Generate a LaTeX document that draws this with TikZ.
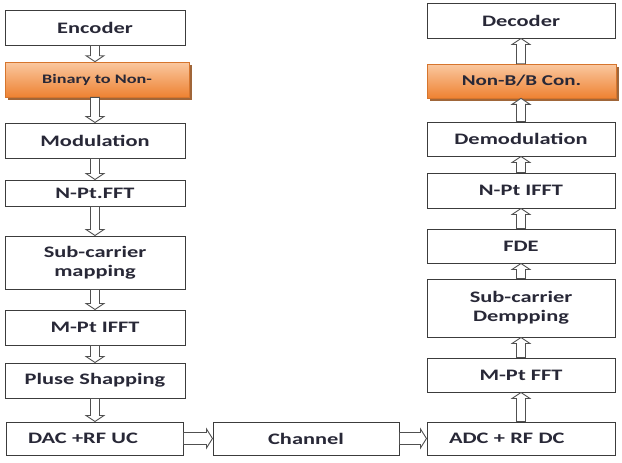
\documentclass[tikz,border=0pt]{standalone}
\usepackage{fontspec}
\usetikzlibrary{calc,shadows}
% Calibri-metric sans, widened like the original artwork
\newfontfamily\lblfont{Carlito}[FakeStretch=1.4]
\definecolor{ink}{RGB}{40,40,55}
\definecolor{edge}{RGB}{60,60,60}
\definecolor{arredge}{RGB}{80,80,80}
\definecolor{orgtop}{RGB}{250,200,160}
\definecolor{orgbot}{RGB}{238,130,50}
\definecolor{orgshadow}{RGB}{150,85,35}

\tikzset{
  stage/.style={draw=edge, line width=1pt, fill=white, inner sep=0pt,
    text=ink, align=center, font=\lblfont\bfseries\fontsize{16}{19}\selectfont},
  leftstage/.style={stage, align=left, inner xsep=22pt},
  conv/.style={stage, draw=orgbot!90!black, line width=0.6pt,
    top color=orgtop, bottom color=orgbot,
    drop shadow={shadow xshift=2.5pt, shadow yshift=-3pt, fill=orgshadow, opacity=0.9}},
  % hollow block arrow: #1 shaft half width, #2 head half width, #3 head length
  blk/.style n args={3}{draw=arredge, line width=0.9pt, fill=white,
    to path={let \p1=(\tikztostart), \p2=(\tikztotarget),
                 \p3=($(\p2)!#3!(\p1)$) in
      ($(\p1)!#1!90:(\p2)$) -- ($(\p3)!#1!90:(\p2)$) -- ($(\p3)!#2!90:(\p2)$)
      -- (\p2) -- ($(\p3)!#2!-90:(\p2)$) -- ($(\p3)!#1!-90:(\p2)$)
      -- ($(\p1)!#1!-90:(\p2)$) -- cycle}},
  varr/.style={blk={4.5pt}{9pt}{6pt}},
  harr/.style={blk={6pt}{9.5pt}{6pt}}
}

\begin{document}
\begin{tikzpicture}[x=1pt,y=-1pt]
\useasboundingbox (0,0) rectangle (622,463);

% transmitter chain
\node[stage, minimum width=180pt, minimum height=35pt] (enc)   at (95,27.5)  {Encoder};
\node[conv, font=\lblfont\bfseries\fontsize{13}{15}\selectfont,
      minimum width=184pt, minimum height=35pt]         (b2n)   at (97,79.5)  {Binary to Non-};
\node[stage, minimum width=180pt, minimum height=35pt] (mod)   at (95,140.5) {Modulation};
\node[stage, minimum width=180pt, minimum height=26pt] (nfft)  at (95,193)   {N-Pt.FFT};
\node[stage, minimum width=180pt, minimum height=53pt] (smap)  at (95,262.5) {Sub-carrier\\mapping};
\node[stage, minimum width=180pt, minimum height=35pt] (mifft) at (95,327.5) {M-Pt IFFT};
\node[stage, minimum width=180pt, minimum height=35pt] (pulse) at (95,380.5) {Pluse Shapping};
\node[leftstage, text width=133pt, minimum height=33pt] (dac)  at (94.5,438.5) {DAC +RF UC};

% channel
\node[stage, minimum width=186pt, minimum height=33pt] (chan)  at (306,438.5) {Channel};

% receiver chain
\node[leftstage, text width=144pt, minimum height=33pt] (adc)  at (521,438.5) {ADC + RF DC};
\node[stage, minimum width=188pt, minimum height=34pt] (mfft)  at (521,375)   {M-Pt FFT};
\node[stage, minimum width=188pt, minimum height=58pt] (sdem)  at (521,308)   {Sub-carrier\\Dempping};
\node[stage, minimum width=188pt, minimum height=34pt] (fde)   at (521,246)   {FDE};
\node[stage, minimum width=188pt, minimum height=35pt] (nifft) at (521,190.5) {N-Pt IFFT};
\node[stage, minimum width=188pt, minimum height=34pt] (demod) at (521,139)   {Demodulation};
\node[conv, font=\lblfont\bfseries\fontsize{15}{18}\selectfont,
      minimum width=189pt, minimum height=34pt]          (n2b)  at (521.5,81) {Non-B/B Con.};
\node[stage, minimum width=188pt, minimum height=35pt] (dec)   at (521,20.5)  {Decoder};

% downward flow
\draw[varr] (enc.south)   to (b2n.north -| enc.south);
\draw[varr] (b2n.south -| enc.south) to (mod.north);
\draw[varr] (mod.south)   to (nfft.north);
\draw[varr] (nfft.south)  to (smap.north);
\draw[varr] (smap.south)  to (mifft.north);
\draw[varr] (mifft.south) to (pulse.north);
\draw[varr] (pulse.south) to (dac.north -| pulse.south);

% across the channel
\draw[harr] (dac.east)  to (chan.west);
\draw[harr] (chan.east) to (adc.west);

% upward flow
\draw[varr] (adc.north -| mfft.south) to (mfft.south);
\draw[varr] (mfft.north)  to (sdem.south);
\draw[varr] (sdem.north)  to (fde.south);
\draw[varr] (fde.north)   to (nifft.south);
\draw[varr] (nifft.north) to (demod.south);
\draw[varr] (demod.north) to (n2b.south -| demod.north);
\draw[varr] (n2b.north -| demod.north) to (dec.south);
\end{tikzpicture}
\end{document}
